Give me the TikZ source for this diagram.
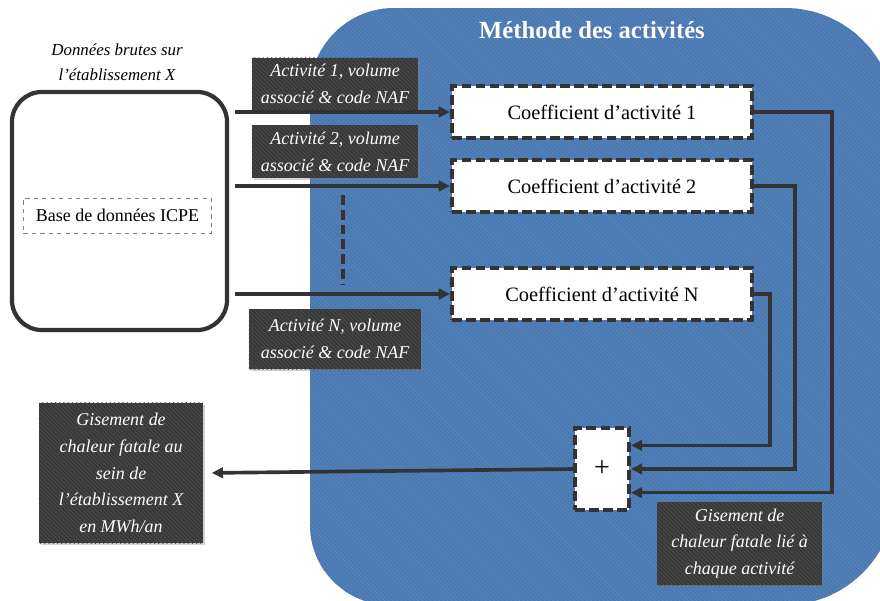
\documentclass[tikz,border=0pt]{standalone}
\usepackage{fontspec}
\setmainfont{Liberation Serif}
\usetikzlibrary{arrows.meta,patterns,shadows}

\definecolor{methblue}{HTML}{4A78B0}
\definecolor{stripeblue}{HTML}{5A87BE}
\definecolor{boxgray}{HTML}{383838}
\definecolor{stripegray}{HTML}{505050}
\definecolor{linegray}{HTML}{333333}

\tikzset{
  coeffbox/.style={draw=linegray, fill=white, line width=2.8pt, dash pattern=on 7pt off 3pt,
    minimum width=7.5cm, minimum height=1.3cm, font=\fontsize{14.5}{17}\selectfont},
  actbox/.style={fill=boxgray, postaction={pattern=north west lines, pattern color=stripegray},
    drop shadow={shadow xshift=1.5pt, shadow yshift=-1.5pt, opacity=0.35},
    text=white, align=center, inner sep=2pt, font=\itshape\fontsize{12.8}{19}\selectfont},
  link/.style={draw=linegray, line width=2.6pt, ->},
}

\begin{document}
\begin{tikzpicture}[x=0.025cm,y=-0.025cm,>={Triangle[length=8pt,width=7.5pt]}]
\useasboundingbox (0,0) rectangle (880,600);
\clip (0,0) rectangle (880,600);
% ---- method background ----
\path[fill=methblue, postaction={pattern=north west lines, pattern color=stripeblue}]
  (310,300) [rounded corners=2.1cm] -- (310,8) [rounded corners=2.75cm] -- (895,8) -- (895,605)
  [rounded corners=2cm] -- (310,605) -- cycle;
\node[text=white, font=\bfseries\fontsize{17.5}{20}\selectfont] (title) at (592,30) {Méthode des activités};
% ---- raw data ----
\node[draw=linegray, line width=3pt, fill=white, rounded corners=0.75cm,
  minimum width=5.375cm, minimum height=5.95cm] (src) at (119.5,211) {};
\node[align=center, font=\itshape\fontsize{12}{18}\selectfont] (srctitle) at (117,62)
  {Données brutes sur\\l’établissement X};
\node[draw=gray, dashed, thin, minimum width=4.7cm, minimum height=0.875cm,
  font=\fontsize{12.8}{14}\selectfont] (icpe) at (117.5,215.5) {Base de données ICPE};
% ---- coefficients ----
\foreach \n/\y in {1/112,2/186,N/294}{
  \node[coeffbox] (coeff\n) at (602,\y) {Coefficient d’activité \n};
}
% ---- activities ----
\node[actbox, minimum width=4.15cm, minimum height=1.3cm] (act1) at (335,84) {Activité 1, volume\\associé \& code NAF};
\node[actbox, minimum width=4.15cm, minimum height=1.3cm] (act2) at (335,151.5) {Activité 2, volume\\associé \& code NAF};
\node[actbox, minimum width=4.3cm, minimum height=1.5cm] (actN) at (335,339) {Activité N, volume\\associé \& code NAF};
% ---- sum and results ----
\node[coeffbox, minimum width=1.35cm, minimum height=2.05cm, font=\fontsize{20}{22}\selectfont] (plus) at (602,469) {+};
\node[actbox, minimum width=4.1cm, minimum height=3.5cm] (out) at (121,473)
  {Gisement de\\chaleur fatale au\\sein de\\l’établissement X\\en MWh/an};
\node[actbox, minimum width=4.125cm, minimum height=2.075cm] (lie) at (739.5,543.5)
  {Gisement de\\chaleur fatale lié à\\chaque activité};
% ---- connectors ----
\foreach \n in {1,2,N}{
  \draw[link, shorten <=4pt] (src.east |- coeff\n.west) -- (coeff\n.west);
}
\draw[link] (coeff1.east) -- ++(78,0) |- ([yshift=-0.59cm]plus.east);
\draw[link] (coeff2.east) -- ++(41,0) |- (plus.east);
\draw[link] (coeffN.east) -- ++(16,0) |- ([yshift=0.59cm]plus.east);
\draw[link, shorten >=6pt] (plus.west) -- (out.east);
\draw[linegray, line width=3pt, dash pattern=on 7pt off 3.5pt] (343,195) -- (343,285);
\end{tikzpicture}
\end{document}
